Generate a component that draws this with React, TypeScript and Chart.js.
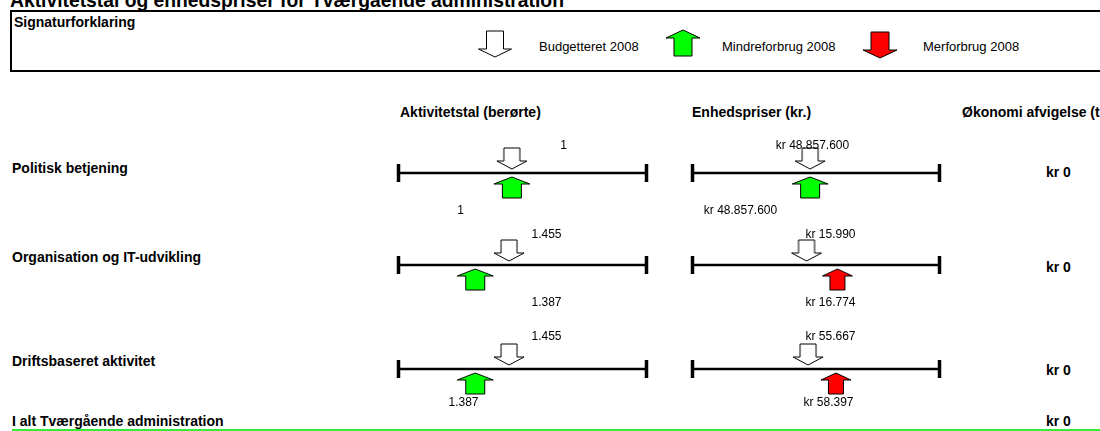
import React, { useEffect, useRef } from "react";
import { Chart, registerables } from "chart.js";

Chart.register(...registerables);

// ---------------- data ----------------
const titleText = "Aktivitetstal og enhedspriser for Tværgående administration";
const legendTitle = "Signaturforklaring";
const legendLabels = ["Budgetteret 2008", "Mindreforbrug 2008", "Merforbrug 2008"];
const columnHeaders = ["Aktivitetstal (berørte)", "Enhedspriser (kr.)", "Økonomi afvigelse (t.kr.)"];
const rowLabels = ["Politisk betjening", "Organisation og IT-udvikling", "Driftsbaseret aktivitet"];
const totalLabel = "I alt Tværgående administration";

const activityBudget = [1, 1455, 1455];
const activityActual = [1, 1387, 1387];
const activityAxisMin = [0.84, 1233, 1233];
const activityAxisMax = [1.19, 1731, 1731];

const priceBudget = [48857600, 15990, 55667];
const priceActual = [48857600, 16774, 58397];
const priceAxisMin = [39086080, 13093, 44357];
const priceAxisMax = [59606272, 19367, 68537];

const deviation = [0, 0, 0];
const totalDeviation = 0;

// ---------------- layout / style ----------------
const FONT = "'Liberation Sans', Arial, Helvetica, sans-serif";
const ROW_Y = [173, 265, 369];
const ROW_LABEL_Y = [168, 257, 361];
const DEV_Y = [172, 267, 370];
const TOTAL_Y = 421;
const PANEL_LEFT = [398, 692];
const PANEL_RIGHT = [647, 940];
const HEADER_X = [400, 692, 962];
const HEADER_Y = 112;
const DEV_X = 1046;
const LABEL_DX = [
  [[165, 62], [120, 48]],
  [[148, 148], [138, 138]],
  [[148, 65], [138, 136]],
];
const LABEL_DY = [[-27, 38], [-30, 38], [-32, 34]];
const PAD = 12;
const PANEL_H = 100;
const GAP = 4;
const BOLD_SIZE = 14;
const VALUE_SIZE = 12;
const LEGEND_SIZE = 13;

type ArrowSpec = { headW: number; shaftW: number; len: number; headH: number; fill: string; stroke: string };
const WHITE: ArrowSpec = { headW: 30, shaftW: 16, len: 21, headH: 8, fill: "#ffffff", stroke: "#000000" };
const GREEN: ArrowSpec = { headW: 36, shaftW: 19, len: 21, headH: 7, fill: "#00ff00", stroke: "#000000" };
const RED: ArrowSpec = { headW: 30, shaftW: 15, len: 21, headH: 7, fill: "#ff0000", stroke: "#000000" };

function drawArrow(ctx: CanvasRenderingContext2D, cx: number, tipY: number, dir: number, s: ArrowSpec) {
  const baseY = tipY - dir * s.len;
  const neckY = tipY - dir * s.headH;
  ctx.beginPath();
  ctx.moveTo(cx - s.shaftW / 2, baseY);
  ctx.lineTo(cx + s.shaftW / 2, baseY);
  ctx.lineTo(cx + s.shaftW / 2, neckY);
  ctx.lineTo(cx + s.headW / 2, neckY);
  ctx.lineTo(cx, tipY);
  ctx.lineTo(cx - s.headW / 2, neckY);
  ctx.lineTo(cx - s.shaftW / 2, neckY);
  ctx.closePath();
  ctx.fillStyle = s.fill;
  ctx.fill();
  ctx.lineWidth = 1;
  ctx.strokeStyle = s.stroke;
  ctx.stroke();
}

function arrowImage(dir: number, s: ArrowSpec, gap: number): HTMLCanvasElement {
  const c = document.createElement("canvas");
  const w = Math.ceil(s.headW) + 4;
  const half = s.len + gap + 2;
  c.width = w;
  c.height = half * 2;
  const ctx = c.getContext("2d")!;
  const cx = w / 2;
  drawArrow(ctx, cx, dir === 1 ? half - gap : half + gap, dir, s);
  return c;
}

const fmtNum = (n: number) => String(n).replace(/\B(?=(\d{3})+(?!\d))/g, ".");
const fmtKr = (n: number) => "kr " + fmtNum(n);

function Txt(props: { x: number; y: number; text: string; size: number; bold?: boolean }) {
  return (
    <div
      style={{
        position: "absolute",
        left: props.x,
        top: props.y,
        transform: "translateY(-50%)",
        fontSize: props.size,
        fontWeight: props.bold ? "bold" : "normal",
        lineHeight: 1,
        whiteSpace: "nowrap",
        color: "#000",
      }}
    >
      {props.text}
    </div>
  );
}

type LineProps = {
  left: number;
  right: number;
  y: number;
  min: number;
  max: number;
  budget: number;
  actual: number;
  topText: string;
  bottomText: string;
  topDx: number;
  bottomDx: number;
  topDy: number;
  bottomDy: number;
};

function NumberLine(p: LineProps) {
  const ref = useRef<HTMLCanvasElement>(null);
  const W = p.right - p.left + 2 * PAD;
  useEffect(() => {
    const under = p.actual <= p.budget;
    const labelPlugin = {
      id: "valueLabels",
      afterDatasetsDraw(chart: any) {
        const { ctx, chartArea } = chart;
        const cy = chart.scales.y.getPixelForValue(0);
        ctx.save();
        ctx.font = `${VALUE_SIZE}px ${FONT}`;
        ctx.fillStyle = "#000";
        ctx.textAlign = "center";
        ctx.textBaseline = "middle";
        ctx.fillText(p.topText, chartArea.left + p.topDx, cy + p.topDy);
        ctx.fillText(p.bottomText, chartArea.left + p.bottomDx, cy + p.bottomDy);
        ctx.restore();
      },
    };
    const chart = new Chart(ref.current!, {
      type: "scatter",
      data: {
        datasets: [
          {
            type: "line",
            data: [
              { x: p.min, y: 0 },
              { x: p.max, y: 0 },
            ],
            borderColor: "#000",
            borderWidth: 2.5,
            pointStyle: "line",
            pointRotation: 90,
            pointRadius: 9,
            pointBorderWidth: 3.5,
            pointBorderColor: "#000",
            fill: false,
            clip: false,
            order: 2,
          } as any,
          {
            data: [{ x: p.budget, y: 0 }],
            pointStyle: arrowImage(1, WHITE, GAP),
            pointRadius: 5,
            clip: false,
            order: 1,
          } as any,
          {
            data: [{ x: p.actual, y: 0 }],
            pointStyle: arrowImage(-1, under ? GREEN : RED, GAP),
            pointRadius: 5,
            clip: false,
            order: 1,
          } as any,
        ],
      },
      options: {
        animation: false,
        responsive: false,
        maintainAspectRatio: false,
        events: [],
        layout: { padding: { left: PAD, right: PAD, top: 0, bottom: 0 } },
        scales: {
          x: { type: "linear", min: p.min, max: p.max, display: false },
          y: { type: "linear", min: -1, max: 1, display: false },
        },
        plugins: { legend: { display: false }, tooltip: { enabled: false } },
      } as any,
      plugins: [labelPlugin],
    });
    return () => chart.destroy();
  }, []);
  return (
    <canvas
      ref={ref}
      width={W}
      height={PANEL_H}
      style={{ position: "absolute", left: p.left - PAD, top: p.y - PANEL_H / 2, width: W, height: PANEL_H }}
    />
  );
}

function LegendIcon(props: { cx: number; cy: number; dir: number; spec: ArrowSpec }) {
  const ref = useRef<HTMLCanvasElement>(null);
  const w = 44;
  const h = 34;
  useEffect(() => {
    const ctx = ref.current!.getContext("2d")!;
    ctx.clearRect(0, 0, w, h);
    const tip = props.dir === 1 ? h / 2 + props.spec.len / 2 : h / 2 - props.spec.len / 2;
    drawArrow(ctx, w / 2, tip, props.dir, props.spec);
  }, []);
  return (
    <canvas
      ref={ref}
      width={w}
      height={h}
      style={{ position: "absolute", left: props.cx - w / 2, top: props.cy - h / 2, width: w, height: h }}
    />
  );
}

const LEG_WHITE: ArrowSpec = { ...WHITE, len: 26, headW: 33, shaftW: 17, headH: 8 };
const LEG_GREEN: ArrowSpec = { ...GREEN, len: 26, headW: 34, shaftW: 18, headH: 8 };
const LEG_RED: ArrowSpec = { ...RED, len: 26, headW: 34, shaftW: 18, headH: 8 };

export default function App() {
  const lines: LineProps[] = [];
  for (let r = 0; r < rowLabels.length; r++) {
    lines.push({
      left: PANEL_LEFT[0],
      right: PANEL_RIGHT[0],
      y: ROW_Y[r],
      min: activityAxisMin[r],
      max: activityAxisMax[r],
      budget: activityBudget[r],
      actual: activityActual[r],
      topText: fmtNum(activityBudget[r]),
      bottomText: fmtNum(activityActual[r]),
      topDx: LABEL_DX[r][0][0],
      bottomDx: LABEL_DX[r][0][1],
      topDy: LABEL_DY[r][0],
      bottomDy: LABEL_DY[r][1],
    });
    lines.push({
      left: PANEL_LEFT[1],
      right: PANEL_RIGHT[1],
      y: ROW_Y[r],
      min: priceAxisMin[r],
      max: priceAxisMax[r],
      budget: priceBudget[r],
      actual: priceActual[r],
      topText: fmtKr(priceBudget[r]),
      bottomText: fmtKr(priceActual[r]),
      topDx: LABEL_DX[r][1][0],
      bottomDx: LABEL_DX[r][1][1],
      topDy: LABEL_DY[r][0],
      bottomDy: LABEL_DY[r][1],
    });
  }

  return (
    <div
      style={{
        position: "absolute",
        left: 0,
        top: 0,
        width: 1100,
        height: 431,
        overflow: "hidden",
        background: "#fff",
        fontFamily: FONT,
      }}
    >
      <div
        style={{
          position: "absolute",
          left: 10,
          top: -9,
          fontSize: 19.3,
          fontWeight: "bold",
          lineHeight: 1,
          whiteSpace: "nowrap",
        }}
      >
        {titleText}
      </div>

      <div
        style={{
          position: "absolute",
          left: 10,
          top: 10,
          width: 1110,
          height: 62,
          boxSizing: "border-box",
          border: "2px solid #000",
        }}
      />
      <Txt x={14} y={22} text={legendTitle} size={BOLD_SIZE} bold />
      <LegendIcon cx={495} cy={44} dir={1} spec={LEG_WHITE} />
      <Txt x={539} y={46} text={legendLabels[0]} size={LEGEND_SIZE} />
      <LegendIcon cx={683} cy={43} dir={-1} spec={LEG_GREEN} />
      <Txt x={722} y={46} text={legendLabels[1]} size={LEGEND_SIZE} />
      <LegendIcon cx={880} cy={45} dir={1} spec={LEG_RED} />
      <Txt x={923} y={46} text={legendLabels[2]} size={LEGEND_SIZE} />

      {columnHeaders.map((h, i) => (
        <Txt key={h} x={HEADER_X[i]} y={HEADER_Y} text={h} size={BOLD_SIZE} bold />
      ))}

      {rowLabels.map((l, i) => (
        <Txt key={l} x={12} y={ROW_LABEL_Y[i]} text={l} size={BOLD_SIZE} bold />
      ))}
      {deviation.map((d, i) => (
        <Txt key={"d" + i} x={DEV_X} y={DEV_Y[i]} text={fmtKr(d)} size={BOLD_SIZE} bold />
      ))}

      {lines.map((lp, i) => (
        <NumberLine key={i} {...lp} />
      ))}

      <Txt x={12} y={TOTAL_Y} text={totalLabel} size={BOLD_SIZE} bold />
      <Txt x={DEV_X} y={TOTAL_Y} text={fmtKr(totalDeviation)} size={BOLD_SIZE} bold />
      <div style={{ position: "absolute", left: 12, top: 429, width: 1090, height: 2, background: "#33ee33" }} />
    </div>
  );
}
